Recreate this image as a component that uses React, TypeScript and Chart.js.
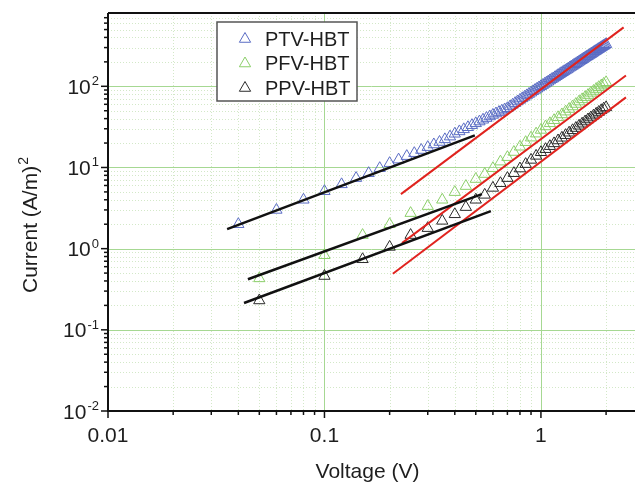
import React, { useEffect, useRef } from 'react';
import { Chart, registerables } from 'chart.js';
Chart.register(...registerables);

// ---- data ----
const PTV_V = [0.04,0.06,0.08,0.10,0.12,0.14,0.16,0.18,0.20,0.22,0.24,0.26,0.28,0.30,0.32,0.34,0.36,0.38,0.40,0.42,0.44,0.46,0.48,0.50,0.52,0.54,0.56,0.58,0.60,0.62,0.64,0.66,0.68,0.70,0.72,0.74,0.76,0.78,0.80,0.82,0.84,0.86,0.88,0.90,0.92,0.94,0.96,0.98,1.00,1.02,1.04,1.06,1.08,1.10,1.12,1.14,1.16,1.18,1.20,1.22,1.24,1.26,1.28,1.30,1.32,1.34,1.36,1.38,1.40,1.42,1.44,1.46,1.48,1.50,1.52,1.54,1.56,1.58,1.60,1.62,1.64,1.66,1.68,1.70,1.72,1.74,1.76,1.78,1.80,1.82,1.84,1.86,1.88,1.90,1.92,1.94,1.96,1.98,2.00];
const PTV_J = [2.0,3.0,4.0,5.1,6.2,7.4,8.5,9.8,11.3,12.5,13.8,15.0,16.4,17.8,19.2,20.6,22.2,24.0,26.0,27.8,29.5,31.3,33.2,35.0,36.8,38.7,40.6,42.5,44.4,46.2,48.1,50.0,51.8,53.6,56.4,59.2,62.0,65.0,68.0,71.0,74.0,77.2,80.3,83.5,86.8,90.1,93.4,96.8,100,103.5,107,110.5,114,118,122,125,129,133,137,141,145,149,153,157,161,165,170,174,178,183,187,192,196,201,206,210,215,220,225,230,234,239,244,249,254,259,265,270,275,280,286,291,296,302,307,313,318,324,330];

const PFV_V = [0.05,0.10,0.15,0.20,0.25,0.30,0.35,0.40,0.45,0.50,0.55,0.60,0.65,0.70,0.75,0.80,0.85,0.90,0.95,1.00,1.05,1.10,1.15,1.20,1.25,1.30,1.35,1.40,1.45,1.50,1.55,1.60,1.65,1.70,1.75,1.80,1.85,1.90,1.95,2.00];
const PFV_J = [0.43,0.83,1.47,2.0,2.74,3.34,4.0,4.97,5.9,7.2,8.3,9.8,11.8,13.4,15.5,18.0,20.5,23.3,26.1,29.0,32,35,38.2,41.5,45,48.7,52.5,56.4,60.5,64.8,69,73.5,78,83,87.5,92.5,97.5,102,107,112];

const PPV_V = [0.05,0.10,0.15,0.20,0.25,0.30,0.35,0.40,0.45,0.50,0.55,0.60,0.65,0.70,0.75,0.80,0.85,0.90,0.95,1.00,1.05,1.10,1.15,1.20,1.25,1.30,1.35,1.40,1.45,1.50,1.55,1.60,1.65,1.70,1.75,1.80,1.85,1.90,1.95,2.00];
const PPV_J = [0.23,0.46,0.74,1.05,1.47,1.79,2.2,2.65,3.25,4.0,4.6,5.6,6.4,7.4,8.5,9.7,11.0,12.4,13.9,15.4,16.8,18.3,19.8,21.5,23.2,25.0,26.8,28.7,30.6,32.6,34.6,36.8,39.0,41.2,43.5,45.8,48.2,50.6,53,55];

// fitted lines (end points)
const FIT_PTV_LOW_V = [0.0355, 0.495];
const FIT_PTV_LOW_J = [1.74, 24.9];
const FIT_PFV_LOW_V = [0.0443, 0.534];
const FIT_PFV_LOW_J = [0.42, 4.7];
const FIT_PPV_LOW_V = [0.0425, 0.587];
const FIT_PPV_LOW_J = [0.214, 2.9];
const FIT_PTV_HIGH_V = [0.2255, 2.41];
const FIT_PTV_HIGH_J = [4.7, 532];
const FIT_PFV_HIGH_V = [0.228, 2.47];
const FIT_PFV_HIGH_J = [1.17, 136];
const FIT_PPV_HIGH_V = [0.207, 2.47];
const FIT_PPV_HIGH_J = [0.49, 73];

const SERIES_NAMES = ['PTV-HBT', 'PFV-HBT', 'PPV-HBT'];
const SERIES_COLORS = ['#5a6cc4', '#8ccf6a', '#2a2a2a'];

const X_DECADES = [0.01, 0.1, 1];
const X_LABELS = ['0.01', '0.1', '1'];
const Y_DECADES = [0.01, 0.1, 1, 10, 100];
const Y_EXPONENTS = ['-2', '-1', '0', '1', '2'];
const MINOR_STEPS = [2, 3, 4, 5, 6, 7, 8, 9];

const X_MIN = 0.01, X_MAX = 2.72;
const Y_MIN = 0.01, Y_MAX = 800;

const FONT = '"Liberation Sans", Arial, sans-serif';
const TEXT = '#1e1e1e';

const pts = (xs: number[], ys: number[]) => xs.map((x, i) => ({ x, y: ys[i] }));

function allTicks(decades: number[], min: number, max: number) {
  const out: { v: number; major: boolean }[] = [];
  const ds = [...decades, decades[decades.length - 1] * 10];
  ds.forEach((d) => {
    if (d >= min && d <= max) out.push({ v: d, major: true });
    MINOR_STEPS.forEach((m) => {
      const v = m * d;
      if (v > min && v < max) out.push({ v, major: false });
    });
  });
  return out;
}

const framePlugin = {
  id: 'frame',
  afterLayout(chart: any) {
    // let the plot run to the right edge of the canvas, as in the figure
    const a = chart.chartArea;
    if (a.right < chart.width) {
      a.right = chart.width;
      a.width = a.right - a.left;
      const xs = chart.scales.x;
      xs.right = chart.width;
      xs.width = xs.right - xs.left;
      xs.configure();
    }
  },
  beforeDatasetsDraw(chart: any) {
    const { ctx, chartArea: a, scales } = chart;
    const xs = scales.x, ys = scales.y;
    ctx.save();
    ctx.beginPath();
    ctx.rect(a.left, a.top, a.right - a.left, a.bottom - a.top);
    ctx.clip();
    const xt = allTicks(X_DECADES, X_MIN, X_MAX);
    const yt = allTicks(Y_DECADES, Y_MIN, Y_MAX);
    ctx.lineWidth = 1;
    ctx.strokeStyle = '#d3e8c8';
    ctx.setLineDash([1, 2]);
    xt.filter((t) => !t.major).forEach((t) => {
      const p = Math.round(xs.getPixelForValue(t.v)) + 0.5;
      ctx.beginPath(); ctx.moveTo(p, a.top); ctx.lineTo(p, a.bottom); ctx.stroke();
    });
    yt.filter((t) => !t.major).forEach((t) => {
      const p = Math.round(ys.getPixelForValue(t.v)) + 0.5;
      ctx.beginPath(); ctx.moveTo(a.left, p); ctx.lineTo(a.right, p); ctx.stroke();
    });
    ctx.setLineDash([]);
    ctx.strokeStyle = '#a6d892';
    xt.filter((t) => t.major).forEach((t) => {
      const p = Math.round(xs.getPixelForValue(t.v)) + 0.5;
      ctx.beginPath(); ctx.moveTo(p, a.top); ctx.lineTo(p, a.bottom); ctx.stroke();
    });
    yt.filter((t) => t.major).forEach((t) => {
      const p = Math.round(ys.getPixelForValue(t.v)) + 0.5;
      ctx.beginPath(); ctx.moveTo(a.left, p); ctx.lineTo(a.right, p); ctx.stroke();
    });
    ctx.restore();
  },
  afterDatasetsDraw(chart: any) {
    const { ctx, chartArea: a, scales } = chart;
    const xs = scales.x, ys = scales.y;
    const xt = allTicks(X_DECADES, X_MIN, X_MAX);
    const yt = allTicks(Y_DECADES, Y_MIN, Y_MAX);
    ctx.save();
    ctx.strokeStyle = '#111';
    ctx.lineWidth = 2;
    ctx.beginPath();
    ctx.moveTo(a.left, a.top); ctx.lineTo(a.right, a.top);
    ctx.moveTo(a.left, a.top); ctx.lineTo(a.left, a.bottom);
    ctx.moveTo(a.left - 1, a.bottom); ctx.lineTo(a.right, a.bottom);
    ctx.stroke();
    ctx.lineWidth = 1.5;
    yt.forEach((t) => {
      const p = ys.getPixelForValue(t.v);
      const len = t.major ? 7 : 4;
      ctx.beginPath(); ctx.moveTo(a.left, p); ctx.lineTo(a.left - len, p); ctx.stroke();
    });
    xt.forEach((t) => {
      const p = xs.getPixelForValue(t.v);
      const len = t.major ? 7 : 4;
      ctx.beginPath(); ctx.moveTo(p, a.bottom); ctx.lineTo(p, a.bottom + len); ctx.stroke();
    });
    ctx.fillStyle = TEXT;
    ctx.textBaseline = 'alphabetic';
    ctx.textAlign = 'left';
    Y_DECADES.forEach((d, i) => {
      const p = ys.getPixelForValue(d);
      ctx.font = `13px ${FONT}`;
      const ew = ctx.measureText(Y_EXPONENTS[i]).width;
      ctx.font = `21px ${FONT}`;
      const bw = ctx.measureText('10').width;
      const right = a.left - 9;
      ctx.fillText('10', right - ew - bw - 1, p + 7.5);
      ctx.font = `13px ${FONT}`;
      ctx.fillText(Y_EXPONENTS[i], right - ew, p - 1);
    });
    // x tick labels
    ctx.font = `21px ${FONT}`;
    ctx.textAlign = 'center';
    X_DECADES.forEach((d, i) => {
      ctx.fillText(X_LABELS[i], xs.getPixelForValue(d), a.bottom + 31);
    });
    // x title
    ctx.fillText('Voltage (V)', (a.left + a.right) / 2 - 4, a.bottom + 67);
    ctx.textAlign = 'left';
    // y title
    ctx.save();
    ctx.translate(a.left - 71, a.top + 280);
    ctx.rotate(-Math.PI / 2);
    ctx.font = `21px ${FONT}`;
    const tw = ctx.measureText('Current (A/m)').width;
    ctx.fillText('Current (A/m)', 0, 0);
    ctx.font = `14px ${FONT}`;
    ctx.fillText('2', tw + 1, -9);
    ctx.restore();

    const lx = a.left + 109, ly = a.top + 9, lw = 140, lh = 79;
    ctx.fillStyle = '#ffffff';
    ctx.fillRect(lx, ly, lw, lh);
    ctx.strokeStyle = '#555';
    ctx.lineWidth = 1.5;
    ctx.strokeRect(lx, ly, lw, lh);
    SERIES_NAMES.forEach((name, i) => {
      const cy = ly + 17 + i * 24.5;
      const cx = lx + 28;
      const r = 6.5;
      ctx.beginPath();
      ctx.moveTo(cx, cy - r);
      ctx.lineTo(cx + r * 0.866, cy + r * 0.5);
      ctx.lineTo(cx - r * 0.866, cy + r * 0.5);
      ctx.closePath();
      ctx.strokeStyle = SERIES_COLORS[i];
      ctx.lineWidth = 1;
      ctx.stroke();
      ctx.fillStyle = TEXT;
      ctx.font = `20px ${FONT}`;
      ctx.textBaseline = 'middle';
      ctx.fillText(name, lx + 48, cy + 1);
    });
    ctx.restore();
  },
};

export default function App() {
  const ref = useRef<HTMLCanvasElement | null>(null);
  useEffect(() => {
    if (!ref.current) return;
    const marker = (label: string, xs: number[], ys: number[], color: string) => ({
      label,
      data: pts(xs, ys),
      showLine: false,
      pointStyle: 'triangle',
      pointRadius: 6.5,
      pointBorderWidth: 1,
      pointBorderColor: color,
      pointBackgroundColor: 'rgba(0,0,0,0)',
      borderColor: color,
      order: 2,
    });
    const fit = (label: string, xs: number[], ys: number[], color: string, w: number) => ({
      label,
      data: pts(xs, ys),
      showLine: true,
      pointRadius: 0,
      borderColor: color,
      borderWidth: w,
      fill: false,
      order: 1,
    });
    const chart = new Chart(ref.current, {
      type: 'scatter',
      data: {
        datasets: [
          marker(SERIES_NAMES[0], PTV_V, PTV_J, SERIES_COLORS[0]),
          marker(SERIES_NAMES[1], PFV_V, PFV_J, SERIES_COLORS[1]),
          marker(SERIES_NAMES[2], PPV_V, PPV_J, SERIES_COLORS[2]),
          fit('fit1', FIT_PTV_LOW_V, FIT_PTV_LOW_J, '#111', 2.5),
          fit('fit2', FIT_PFV_LOW_V, FIT_PFV_LOW_J, '#111', 2.5),
          fit('fit3', FIT_PPV_LOW_V, FIT_PPV_LOW_J, '#111', 2.5),
          fit('fit4', FIT_PTV_HIGH_V, FIT_PTV_HIGH_J, '#e0231e', 2),
          fit('fit5', FIT_PFV_HIGH_V, FIT_PFV_HIGH_J, '#e0231e', 2),
          fit('fit6', FIT_PPV_HIGH_V, FIT_PPV_HIGH_J, '#e0231e', 2),
        ] as any,
      },
      options: {
        animation: false,
        responsive: false,
        devicePixelRatio: 1,
        layout: { padding: { top: 13, left: 0, right: 0, bottom: 0 } },
        plugins: { legend: { display: false }, tooltip: { enabled: false } },
        scales: {
          x: {
            type: 'logarithmic',
            position: 'bottom',
            min: X_MIN,
            max: X_MAX,
            grid: { display: false, drawTicks: false },
            border: { display: false },
            ticks: { display: false },
            afterFit: (s: any) => { s.height = 72; s.paddingRight = 0; s.paddingLeft = 0; },
          },
          y: {
            type: 'logarithmic',
            min: Y_MIN,
            max: Y_MAX,
            grid: { display: false, drawTicks: false },
            border: { display: false },
            ticks: { display: false },
            afterFit: (s: any) => { s.width = 108; s.paddingTop = 0; s.paddingBottom = 0; },
          },
        },
      } as any,
      plugins: [framePlugin],
    });
    return () => chart.destroy();
  }, []);
  return (
    <div style={{ position: 'absolute', left: 0, top: 0, width: 635, height: 483, background: '#fff' }}>
      <canvas ref={ref} width={635} height={483} />
    </div>
  );
}
